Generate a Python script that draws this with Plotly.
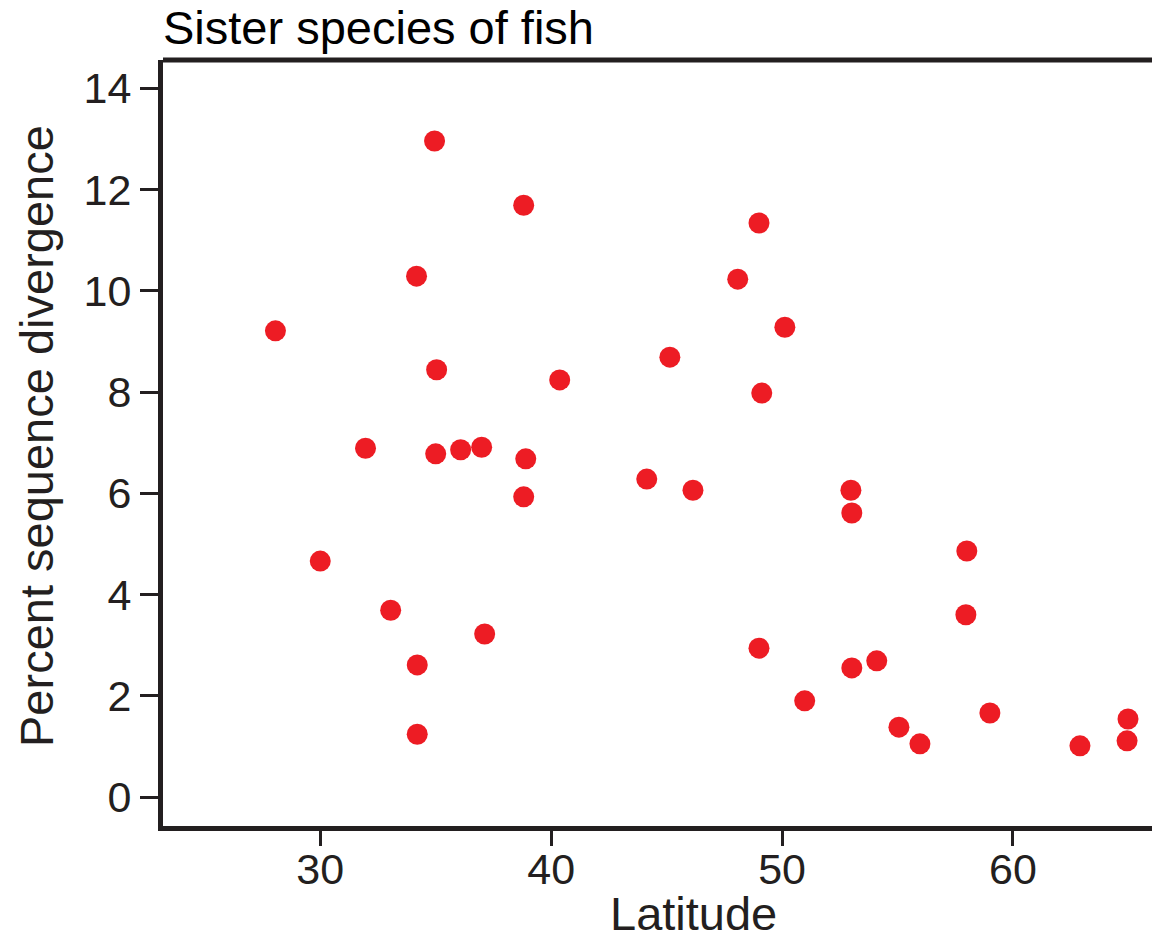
import plotly.graph_objects as go

latitude = [28.06, 30.0, 31.96, 33.05, 34.17, 34.2, 34.2, 34.95, 35.04, 35.0,
            36.08, 36.99, 37.12, 38.81, 38.9, 38.81, 40.37, 44.14, 45.14, 46.14,
            48.08, 49.0, 49.12, 49.0, 50.12, 50.98, 52.98, 53.02, 53.02, 54.1,
            55.06, 55.97, 58.0, 57.96, 59.0, 62.9, 64.98, 64.94]
divergence = [9.21, 4.66, 6.89, 3.69, 10.29, 2.61, 1.24, 12.96, 8.44, 6.78,
              6.86, 6.91, 3.22, 11.69, 6.68, 5.93, 8.24, 6.28, 8.69, 6.06,
              10.23, 11.34, 7.98, 2.94, 9.28, 1.90, 6.06, 5.61, 2.55, 2.69,
              1.38, 1.05, 4.86, 3.60, 1.66, 1.01, 1.54, 1.11]

x_ticks = [30, 40, 50, 60]
y_ticks = [0, 2, 4, 6, 8, 10, 12, 14]

INK = "#231F20"
FONT = "Liberation Sans, Arial, sans-serif"

W, H = 1152, 940
L, R, T, B = 163, 0, 60, 114
PW, PH = W - L - R, H - T - B

fig = go.Figure()
fig.add_trace(go.Scatter(
    x=latitude, y=divergence, mode="markers",
    marker=dict(color="#ED1C24", size=21, line=dict(width=0)),
    showlegend=False,
))

fig.update_layout(
    width=W, height=H,
    margin=dict(l=L, r=R, t=T, b=B),
    paper_bgcolor="white", plot_bgcolor="white",
    font=dict(family=FONT, color=INK, size=43),
    title=dict(text="Sister species of fish", xref="container", yref="container",
               x=163/W, xanchor="left", y=1 - 11/H, yanchor="top",
               pad=dict(t=0, b=0, l=0, r=0),
               font=dict(size=47, color="black", family=FONT)),
    xaxis=dict(range=[23.19, 66.02], tickvals=x_ticks, showgrid=False, zeroline=False,
               showline=True, linecolor=INK, linewidth=5,
               ticks="outside", ticklen=15, tickwidth=3, tickcolor=INK,
               ticklabelstandoff=-14,
               tickfont=dict(size=43, color=INK)),
    yaxis=dict(range=[-0.573, 14.56], tickvals=y_ticks, showgrid=False, zeroline=False,
               showline=True, linecolor=INK, linewidth=5,
               ticks="outside", ticklen=18, tickwidth=3, tickcolor=INK,
               tickfont=dict(size=43, color=INK)),
    shapes=[dict(type="line", xref="paper", yref="paper", x0=0, x1=1, y0=1, y1=1,
                 line=dict(color=INK, width=5))],
    annotations=[
        dict(text="Latitude", xref="paper", yref="paper",
             x=(693 - L) / PW, y=(H - B - 913) / PH,
             xanchor="center", yanchor="middle", showarrow=False,
             font=dict(size=47, color=INK, family=FONT)),
        dict(text="Percent sequence divergence", xref="paper", yref="paper",
             x=(36 - L) / PW, y=(H - B - 436) / PH, textangle=-90,
             xanchor="center", yanchor="middle", showarrow=False,
             font=dict(size=47, color=INK, family=FONT)),
    ],
)

fig.write_html("out.html")
